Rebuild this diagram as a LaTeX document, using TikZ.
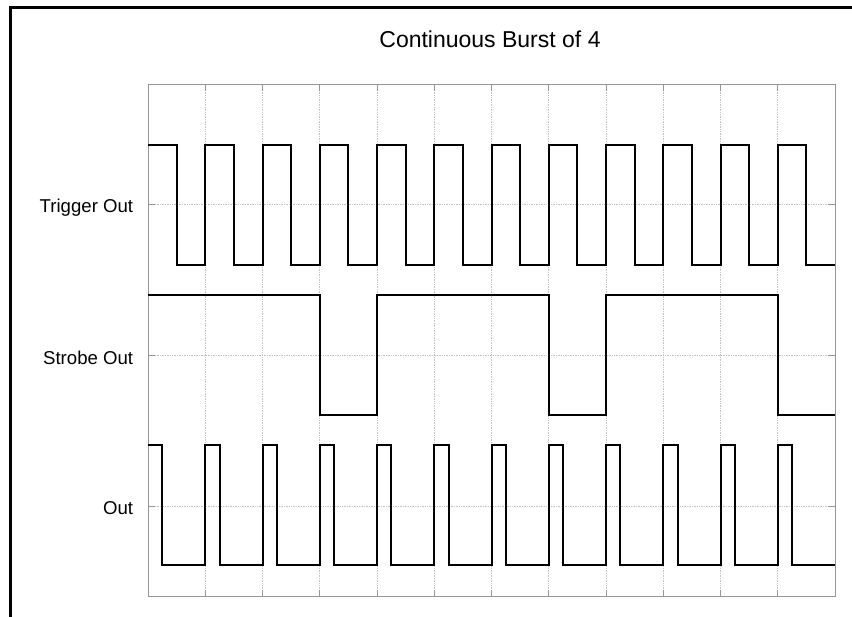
\documentclass[tikz,border=0pt]{standalone}
\usepackage{fontspec}
\setmainfont{Liberation Sans}
\usetikzlibrary{positioning}
\definecolor{grid-gray}{RGB}{195,195,195}
\definecolor{axis-gray}{RGB}{150,150,150}

\begin{document}
\begin{tikzpicture}[x=1pt,y=-1pt,
 lbl/.style={font=\fontsize{18.6}{20}\selectfont, anchor=base east, inner sep=0},
 wave/.style={black, line width=2pt, line join=miter},
 gridln/.style={grid-gray, densely dotted, line width=0.7pt},
 tickln/.style={axis-gray, line width=0.9pt},
]
 \useasboundingbox (0,0) rectangle (852,617);
 % outer frame: only the left and top edges show
 \draw[line width=3pt] (10,617) -- (10,8) -- (852,8);
 \node[font=\fontsize{23}{26}\selectfont, anchor=base, inner sep=0] (title) at (490,48) {Continuous Burst of 4};
 % grid (12 columns, one row line per trace)
 \foreach \k in {1,...,11}{\draw[gridln] ({148+57.25*\k},85) -- ({148+57.25*\k},596);
   \draw[tickln] ({148+57.25*\k},85) -- ++(0,6);
   \draw[tickln] ({148+57.25*\k},596) -- ++(0,-6);}
 \foreach \y in {204,355,506}{\draw[gridln] (148,\y) -- (835,\y);
   \draw[tickln] (148,\y) -- ++(7,0);
   \draw[tickln] (835,\y) -- ++(-7,0);}
 \draw[axis-gray, line width=1pt] (148,85) rectangle (835,596);
 % trace labels
 \coordinate (trigy) at (148,207.5);
 \coordinate (stroy) at (148,358.3);
 \coordinate (outy) at (148,508.5);
 \node[lbl, left=14.7pt of trigy] (trig) {Trigger Out};
 \node[lbl, left=14.7pt of stroy] (strobe) {Strobe Out};
 \node[lbl, left=14.7pt of outy] (out) {Out};
 % Trigger Out (50% duty) and Out (25% duty), one pulse per column
 \foreach \hi/\lo/\w in {145/265/28.625, 445/565/14.3125}{
   \draw[wave] (148,\hi) \foreach \k in {0,...,11}{ -- ({148+57.25*\k},\hi) -- ({148+57.25*\k+\w},\hi)
     -- ({148+57.25*\k+\w},\lo) -- ({148+57.25*(\k+1)},\lo)};}
 % Strobe Out: low during every 4th column
 \draw[wave] (148,295) -- (319.75,295) -- (319.75,415) -- (377,415) -- (377,295)
   -- (548.75,295) -- (548.75,415) -- (606,415) -- (606,295)
   -- (777.75,295) -- (777.75,415) -- (835,415);
\end{tikzpicture}
\end{document}
